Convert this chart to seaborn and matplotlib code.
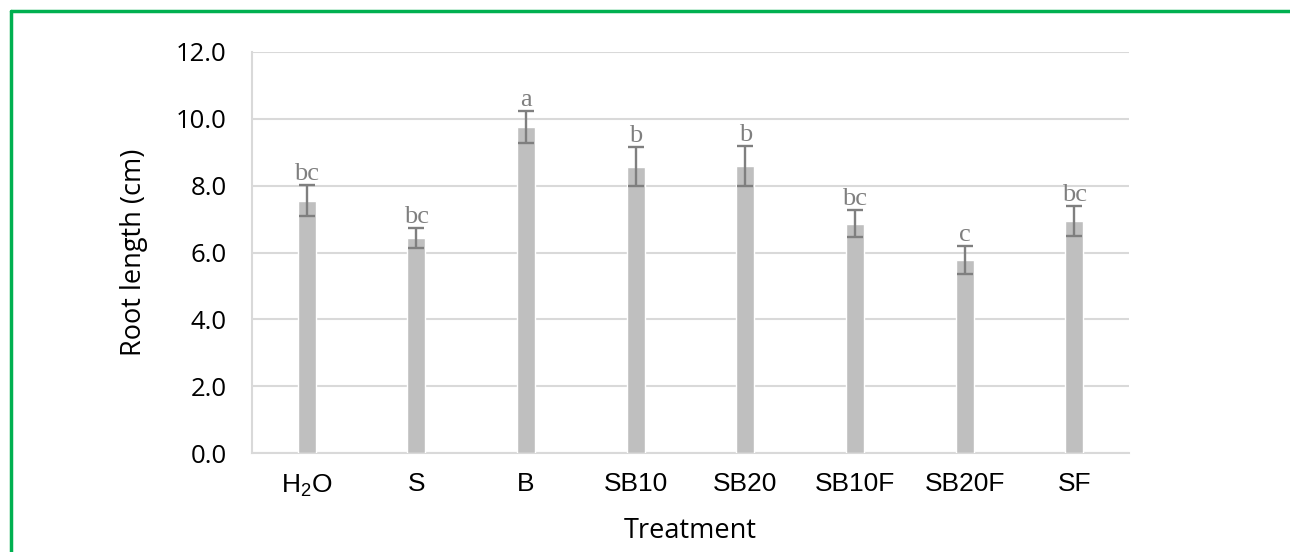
import matplotlib
matplotlib.use("Agg")
import matplotlib.pyplot as plt
import seaborn as sns
import pandas as pd
from matplotlib.lines import Line2D

# ---- data ----
categories = ["H$_\\mathrm{2}$O", "S", "B", "SB10", "SB20", "SB10F", "SB20F", "SF"]
root_length = [7.55, 6.43, 9.75, 8.57, 8.59, 6.86, 5.78, 6.94]
errors = [0.47, 0.30, 0.47, 0.59, 0.60, 0.40, 0.42, 0.46]
letters = ["bc", "bc", "a", "b", "b", "bc", "c", "bc"]
y_ticks = [0, 2, 4, 6, 8, 10, 12]

sns.set_style("white")
plt.rcParams["font.family"] = ["Open Sans", "DejaVu Sans"]
plt.rcParams["mathtext.fontset"] = "custom"
plt.rcParams["mathtext.rm"] = "Liberation Sans"
plt.rcParams["mathtext.it"] = "Liberation Sans:italic"

df = pd.DataFrame({"Treatment": categories, "Root": root_length})

fig = plt.figure(figsize=(12.9, 5.52), dpi=100)
ax = fig.add_axes([0.1953, 0.1793, 0.6799, 0.7265])

sns.barplot(data=df, x="Treatment", y="Root", color="#bfbfbf", width=0.165,
            saturation=1, ax=ax, zorder=3)
ax.errorbar(range(len(categories)), root_length, yerr=errors, fmt="none",
            ecolor="#7f7f7f", elinewidth=1.7, capsize=5.5, capthick=1.7, zorder=4)

for i, (v, e, t) in enumerate(zip(root_length, errors, letters)):
    ax.text(i, v + e + 0.0, t, ha="center", va="bottom", color="#7f7f7f",
            fontsize=19, family="Liberation Serif", zorder=5)

ax.set_ylim(0, 12)
ax.set_xlim(-0.5, len(categories) - 0.5)
ax.set_yticks(y_ticks)
ax.set_yticklabels([f"{t:.1f}" for t in y_ticks])
ax.grid(axis="y", color="#d9d9d9", linewidth=1.5, zorder=0)
ax.set_axisbelow(True)

for s in ["top", "right"]:
    ax.spines[s].set_visible(False)
for s in ["left", "bottom"]:
    ax.spines[s].set_color("#d9d9d9")
    ax.spines[s].set_linewidth(1.5)

ax.tick_params(axis="y", length=6, width=1.5, color="#d9d9d9", pad=12,
               labelsize=18.5, labelcolor="black")
ax.tick_params(axis="x", length=0, pad=14, labelsize=19, labelcolor="black")
for lab in ax.get_xticklabels():
    lab.set_fontfamily("Liberation Sans")

ax.set_ylabel("Root length (cm)", fontsize=19.5, color="black")
ax.set_xlabel("Treatment", fontsize=19.5, color="black")
ax.yaxis.set_label_coords(-0.118, 0.5)
ax.xaxis.set_label_coords(0.5, -0.16)

# green frame (top and left edges)
green = "#00b050"
fig.add_artist(Line2D([0.0085, 1.0], [0.980, 0.980], transform=fig.transFigure,
                      color=green, linewidth=2.5))
fig.add_artist(Line2D([0.0085, 0.0085], [0.0, 0.980], transform=fig.transFigure,
                      color=green, linewidth=2.5))

fig.savefig("out.png", dpi=100, facecolor="white")
